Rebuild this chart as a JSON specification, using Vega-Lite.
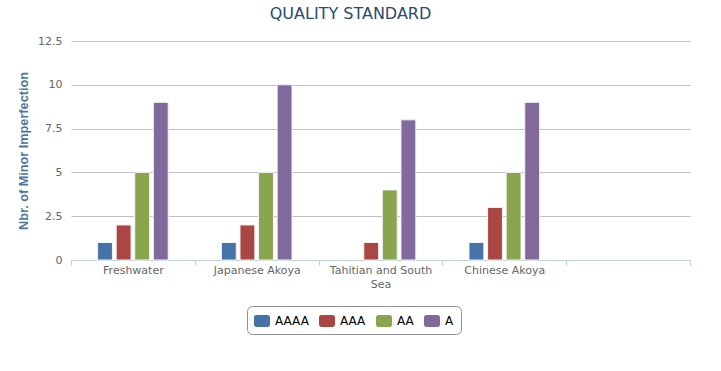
{
  "$schema": "https://vega.github.io/schema/vega-lite/v6.json",
  "width": 619,
  "height": 219,
  "autosize": {"type": "none"},
  "padding": {"left": 71, "top": 41, "right": 31, "bottom": 111},
  "background": "#ffffff",
  "title": {
    "text": "QUALITY STANDARD",
    "anchor": "middle",
    "frame": "group",
    "dx": -30,
    "offset": 13,
    "font": "DejaVu Sans",
    "fontSize": 16,
    "fontWeight": "normal",
    "color": "#274b6d"
  },
  "data": {
    "values": [
      {"category": "Freshwater", "grade": "AAAA", "value": 1},
      {"category": "Freshwater", "grade": "AAA", "value": 2},
      {"category": "Freshwater", "grade": "AA", "value": 5},
      {"category": "Freshwater", "grade": "A", "value": 9},
      {"category": "Japanese Akoya", "grade": "AAAA", "value": 1},
      {"category": "Japanese Akoya", "grade": "AAA", "value": 2},
      {"category": "Japanese Akoya", "grade": "AA", "value": 5},
      {"category": "Japanese Akoya", "grade": "A", "value": 10},
      {"category": "Tahitian and South Sea", "grade": "AAA", "value": 1},
      {"category": "Tahitian and South Sea", "grade": "AA", "value": 4},
      {"category": "Tahitian and South Sea", "grade": "A", "value": 8},
      {"category": "Chinese Akoya", "grade": "AAAA", "value": 1},
      {"category": "Chinese Akoya", "grade": "AAA", "value": 3},
      {"category": "Chinese Akoya", "grade": "AA", "value": 5},
      {"category": "Chinese Akoya", "grade": "A", "value": 9}
    ]
  },
  "mark": {"type": "bar", "stroke": "#f4f4f4", "strokeWidth": 1},
  "encoding": {
    "x": {
      "field": "category",
      "type": "nominal",
      "sort": null,
      "scale": {
        "domain": ["Freshwater", "Japanese Akoya", "Tahitian and South Sea", "Chinese Akoya", " "],
        "paddingInner": 0,
        "paddingOuter": 0
      },
      "axis": {
        "title": null,
        "labelAngle": 0,
        "labelFont": "DejaVu Sans",
        "labelFontSize": 11,
        "labelColor": "#666666",
        "labelPadding": -1,
        "labelLineHeight": 14,
        "labelExpr": "datum.value == 'Tahitian and South Sea' ? ['Tahitian and South', 'Sea'] : datum.value",
        "tickBand": "extent",
        "tickSize": 5,
        "tickColor": "#C0D0E0",
        "domainColor": "#C0D0E0",
        "grid": false
      }
    },
    "xOffset": {
      "field": "grade",
      "type": "nominal",
      "scale": {
        "domain": ["_left", "AAAA", "AAA", "AA", "A", "_right"],
        "paddingInner": 0.2,
        "paddingOuter": 0.43
      }
    },
    "y": {
      "field": "value",
      "type": "quantitative",
      "scale": {"domain": [0, 12.5], "nice": false},
      "axis": {
        "title": "Nbr. of Minor Imperfection",
        "titleFont": "Liberation Sans",
        "titleFontSize": 12.7,
        "titleFontWeight": "bold",
        "titleColor": "#4d759e",
        "titlePadding": 7,
        "values": [0, 2.5, 5, 7.5, 10, 12.5],
        "labelExpr": "'' + datum.value",
        "labelFont": "DejaVu Sans",
        "labelFontSize": 11,
        "labelColor": "#666666",
        "labelPadding": 9,
        "ticks": false,
        "domain": false,
        "grid": true,
        "gridColor": "#C0C0C0",
        "gridWidth": 1
      }
    },
    "color": {
      "field": "grade",
      "type": "nominal",
      "scale": {
        "domain": ["AAAA", "AAA", "AA", "A"],
        "range": ["#4572A7", "#AA4643", "#89A54E", "#80699B"]
      },
      "legend": {
        "title": null,
        "orient": "none",
        "direction": "horizontal",
        "legendX": 176,
        "legendY": 265,
        "strokeColor": "#909090",
        "cornerRadius": 5,
        "padding": 7,
        "symbolType": "M-0.7,-0.75H0.7A0.3,0.3,0,0,1,1,-0.45V0.45A0.3,0.3,0,0,1,0.7,0.75H-0.7A0.3,0.3,0,0,1,-1,0.45V-0.45A0.3,0.3,0,0,1,-0.7,-0.75Z",
        "symbolSize": 256,
        "symbolStrokeWidth": 0,
        "symbolOpacity": 1,
        "labelFont": "DejaVu Sans",
        "labelFontSize": 12,
        "labelColor": "#000000",
        "labelOffset": 5,
        "columnPadding": 10
      }
    }
  },
  "config": {
    "view": {"stroke": null}
  }
}
